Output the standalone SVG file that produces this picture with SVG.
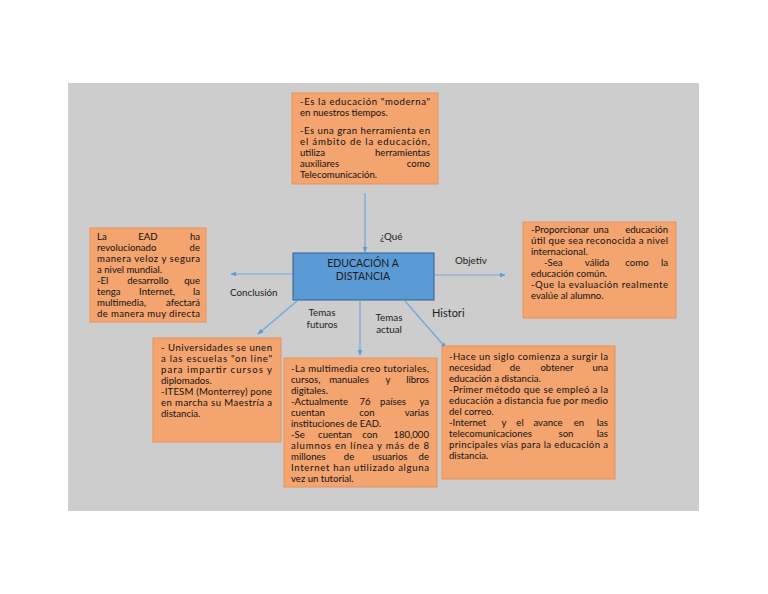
<svg xmlns="http://www.w3.org/2000/svg" width="768" height="594" viewBox="0 0 768 594">
<defs>
<marker id="ah" viewBox="0 0 10 10" refX="9" refY="5" markerWidth="6" markerHeight="6" orient="auto" markerUnits="userSpaceOnUse"><path d="M0,1 L10,5 L0,9 z" fill="#5B9BD5"/></marker>
</defs>
<style>
.box{fill:#F4A46F;stroke:#E8915A;stroke-width:1}
.t{font-family:Lato,"Open Sans","Liberation Sans",sans-serif;font-size:9.6px;fill:#111}
.m{text-anchor:middle}
.e{text-anchor:end}
.lbl{font-family:Lato,"Open Sans","Liberation Sans",sans-serif;font-size:9.8px;fill:#222}
.c{stroke:#6FA6DC;stroke-width:1.2;fill:none;marker-end:url(#ah)}
</style>
<rect x="0" y="0" width="768" height="594" fill="#fff"/>
<rect x="68" y="83" width="631" height="428" fill="#CDCDCD"/>

<g id="connectors">
<line class="c" x1="365" y1="193" x2="365" y2="252"/>
<line class="c" x1="293" y1="274" x2="231" y2="274"/>
<line class="c" x1="434" y1="275" x2="505" y2="275"/>
<line class="c" x1="297" y1="301" x2="258" y2="334"/>
<line class="c" x1="360" y1="301" x2="360" y2="355"/>
<line class="c" x1="405" y1="301" x2="446" y2="348"/>
</g>

<g id="labels">
<text class="lbl" x="380" y="240">¿Qué</text>
<text class="lbl" x="455" y="264">Objetiv</text>
<text class="lbl" x="230" y="296">Conclusión</text>
<text class="lbl" x="322" y="316" text-anchor="middle">Temas</text>
<text class="lbl" x="322" y="328" text-anchor="middle">futuros</text>
<text class="lbl" x="389" y="321" text-anchor="middle">Temas</text>
<text class="lbl" x="389" y="333" text-anchor="middle">actual</text>
<text class="lbl" x="432" y="317" style="font-size:11px">Histori</text>
</g>

<g id="center">
<rect x="293" y="253" width="141" height="47" fill="#5B9BD5" stroke="#2F5F8F" stroke-width="1"/>
<text class="lbl" x="363" y="267" text-anchor="middle" style="font-size:10.5px;fill:#1a1a1a">EDUCACIÓN A</text>
<text class="lbl" x="363" y="280" text-anchor="middle" style="font-size:10.5px;fill:#1a1a1a">DISTANCIA</text>
</g>

<g id="top">
<rect class="box" x="292" y="93" width="146" height="91"/>
<text class="t" x="300" y="105" textLength="130" lengthAdjust="spacing">-Es la educación "moderna"</text>
<text class="t" x="300" y="116">en nuestros tiempos.</text>
<text class="t" x="300" y="134" textLength="130" lengthAdjust="spacing">-Es una gran herramienta en</text>
<text class="t" x="300" y="145" textLength="130" lengthAdjust="spacing">el ámbito de la educación,</text>
<text class="t" y="156"><tspan x="300">utiliza</tspan><tspan class="e" x="430">herramientas</tspan></text>
<text class="t" y="167"><tspan x="300">auxiliares</tspan><tspan class="e" x="430">como</tspan></text>
<text class="t" x="300" y="178">Telecomunicación.</text>
</g>

<g id="conclusion">
<rect class="box" x="90" y="228" width="116" height="94"/>
<text class="t" y="240"><tspan x="97">La</tspan><tspan class="m" x="148">EAD</tspan><tspan class="e" x="200">ha</tspan></text>
<text class="t" y="251"><tspan x="97">revolucionado</tspan><tspan class="e" x="200">de</tspan></text>
<text class="t" x="97" y="262" textLength="103" lengthAdjust="spacing">manera veloz y segura</text>
<text class="t" x="97" y="273">a nivel mundial.</text>
<text class="t" y="284"><tspan x="97">-El</tspan><tspan class="m" x="148">desarrollo</tspan><tspan class="e" x="200">que</tspan></text>
<text class="t" y="295"><tspan x="97">tenga</tspan><tspan class="m" x="157">Internet,</tspan><tspan class="e" x="200">la</tspan></text>
<text class="t" y="306"><tspan x="97">multimedia,</tspan><tspan class="e" x="200">afectará</tspan></text>
<text class="t" x="97" y="317" textLength="103" lengthAdjust="spacing">de manera muy directa</text>
</g>

<g id="objetivo">
<rect class="box" x="523" y="222" width="153" height="96"/>
<text class="t" y="233"><tspan x="531">-Proporcionar</tspan><tspan class="m" x="601">una</tspan><tspan class="e" x="668">educación</tspan></text>
<text class="t" x="531" y="244" textLength="137" lengthAdjust="spacing">útil  que sea reconocida a nivel</text>
<text class="t" x="531" y="255">internacional.</text>
<text class="t" y="266"><tspan x="544">-Sea</tspan><tspan class="m" x="597">válida</tspan><tspan class="m" x="637">como</tspan><tspan class="e" x="668">la</tspan></text>
<text class="t" x="531" y="277">educación común.</text>
<text class="t" x="531" y="288" textLength="137" lengthAdjust="spacing">-Que la evaluación realmente</text>
<text class="t" x="531" y="299">evalúe al alumno.</text>
</g>

<g id="futuros">
<rect class="box" x="153" y="338" width="128" height="104"/>
<text class="t" x="161" y="351" textLength="111" lengthAdjust="spacing">- Universidades  se unen</text>
<text class="t" x="161" y="362" textLength="111" lengthAdjust="spacing">a las escuelas "on line"</text>
<text class="t" x="161" y="373" textLength="111" lengthAdjust="spacing">para impartir  cursos y</text>
<text class="t" x="161" y="384">diplomados.</text>
<text class="t" x="161" y="395" textLength="111" lengthAdjust="spacing">-ITESM (Monterrey) pone</text>
<text class="t" x="161" y="406" textLength="111" lengthAdjust="spacing">en marcha su Maestría a</text>
<text class="t" x="161" y="417">distancia.</text>
</g>

<g id="actual">
<rect class="box" x="284" y="358" width="153" height="129"/>
<text class="t" x="291" y="372" textLength="138" lengthAdjust="spacing">-La multimedia creo tutoriales,</text>
<text class="t" y="383"><tspan x="291">cursos,</tspan><tspan class="m" x="349">manuales</tspan><tspan class="m" x="388">y</tspan><tspan class="e" x="429">libros</tspan></text>
<text class="t" x="291" y="394">digitales.</text>
<text class="t" y="405"><tspan x="291">-Actualmente</tspan><tspan class="m" x="365">76</tspan><tspan class="m" x="393">países</tspan><tspan class="e" x="429">ya</tspan></text>
<text class="t" y="416"><tspan x="291">cuentan</tspan><tspan class="m" x="367">con</tspan><tspan class="e" x="429">varias</tspan></text>
<text class="t" x="291" y="427">instituciones de EAD.</text>
<text class="t" y="438"><tspan x="291">-Se</tspan><tspan class="m" x="335">cuentan</tspan><tspan class="m" x="370">con</tspan><tspan class="e" x="429">180,000</tspan></text>
<text class="t" x="291" y="449" textLength="138" lengthAdjust="spacing">alumnos en línea y más de 8</text>
<text class="t" y="460"><tspan x="291">millones</tspan><tspan class="m" x="349">de</tspan><tspan class="m" x="390">usuarios</tspan><tspan class="e" x="429">de</tspan></text>
<text class="t" x="291" y="471" textLength="138" lengthAdjust="spacing">Internet han utilizado alguna</text>
<text class="t" x="291" y="482">vez un tutorial.</text>
</g>

<g id="historia">
<rect class="box" x="442" y="346" width="173" height="133"/>
<text class="t" x="449" y="360" textLength="159" lengthAdjust="spacing">-Hace un siglo comienza a surgir la</text>
<text class="t" y="371"><tspan x="449">necesidad</tspan><tspan class="m" x="515">de</tspan><tspan class="m" x="557">obtener</tspan><tspan class="e" x="608">una</tspan></text>
<text class="t" x="449" y="382">educación a distancia.</text>
<text class="t" x="449" y="393" textLength="159" lengthAdjust="spacing">-Primer método que se empleó  a la</text>
<text class="t" x="449" y="404" textLength="159" lengthAdjust="spacing">educación a distancia fue por medio</text>
<text class="t" x="449" y="415">del correo.</text>
<text class="t" y="426"><tspan x="449">-Internet</tspan><tspan class="m" x="504">y</tspan><tspan class="m" x="520">el</tspan><tspan class="m" x="548">avance</tspan><tspan class="m" x="579">en</tspan><tspan class="e" x="608">las</tspan></text>
<text class="t" y="437"><tspan x="449">telecomunicaciones</tspan><tspan class="m" x="566">son</tspan><tspan class="e" x="608">las</tspan></text>
<text class="t" x="449" y="448" textLength="159" lengthAdjust="spacing">principales vías para la educación a</text>
<text class="t" x="449" y="459">distancia.</text>
</g>
</svg>
